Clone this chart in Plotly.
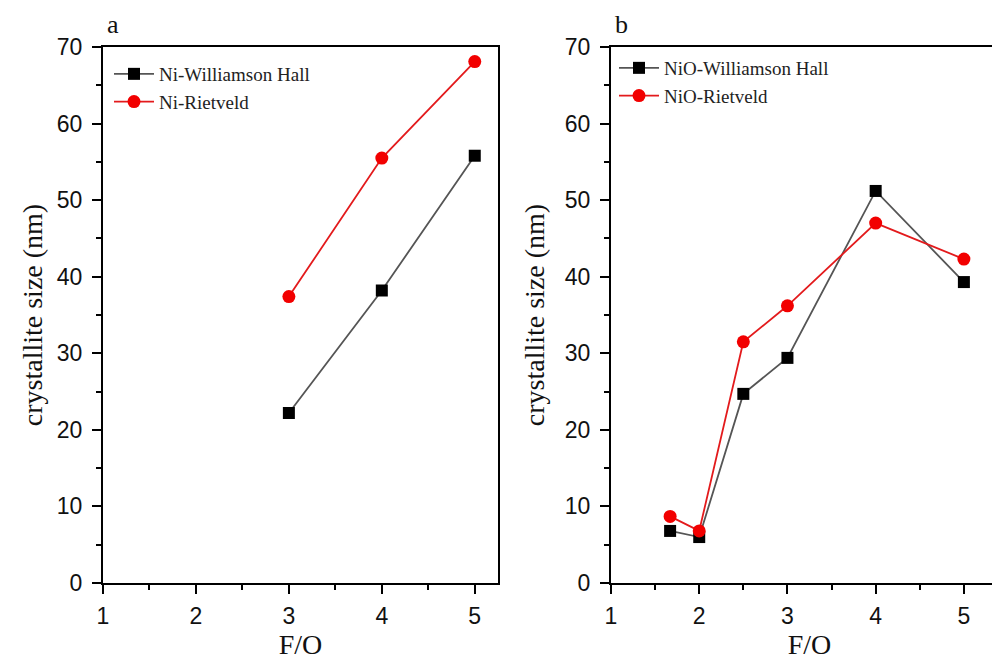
import plotly.graph_objects as go

# Panel a data
fo_a = [3, 4, 5]
ni_wh = [22.2, 38.2, 55.8]
ni_rv = [37.4, 55.5, 68.1]

# Panel b data
fo_b = [1.67, 2, 2.5, 3, 4, 5]
nio_wh = [6.8, 6.0, 24.7, 29.4, 51.2, 39.3]
nio_rv = [8.7, 6.8, 31.5, 36.2, 47.0, 42.3]

x_ticks = [1, 2, 3, 4, 5]
y_ticks = [0, 10, 20, 30, 40, 50, 60, 70]

W, H = 1000, 662
OX, OY = 8, 8  # page body offset


def sx(px):
    return (px - OX) / W


def sy(py):
    return 1 - (py - OY) / H


GRAY = "#555555"
RED_LINE = "#e31a1c"
RED = "#f20000"

fig = go.Figure()


def add_pair(x, y1, y2, n1, n2, xa, ya, leg):
    fig.add_trace(go.Scatter(x=x, y=y1, name=n1, mode="lines+markers",
                             line=dict(color=GRAY, width=1.8),
                             marker=dict(symbol="square", size=12, color="black"),
                             xaxis=xa, yaxis=ya, legend=leg))
    fig.add_trace(go.Scatter(x=x, y=y2, name=n2, mode="lines+markers",
                             line=dict(color=RED_LINE, width=1.8),
                             marker=dict(symbol="circle", size=13, color=RED),
                             xaxis=xa, yaxis=ya, legend=leg))


add_pair(fo_a, ni_wh, ni_rv, "Ni-Williamson Hall", "Ni-Rietveld", "x", "y", "legend")
add_pair(fo_b, nio_wh, nio_rv, "NiO-Williamson Hall", "NiO-Rietveld", "x2", "y2", "legend2")

tickfont = dict(family="Liberation Sans, Arial, sans-serif", size=23, color="#111")
serif = "Liberation Serif, Times New Roman, serif"


def xaxis(domain, rng, anchor):
    return dict(domain=domain, range=rng, tickvals=x_ticks, ticks="outside", ticklen=9,
                tickwidth=2, tickcolor="black", showline=True, linecolor="black",
                linewidth=2, mirror=True, showgrid=False, zeroline=False,
                tickfont=tickfont, ticklabelstandoff=2, anchor=anchor,
                minor=dict(ticks="outside", ticklen=5, tickwidth=2, tickcolor="black",
                           dtick=0.5, tick0=1, showgrid=False),
                title=dict(text="F/O", font=dict(family=serif, size=28, color="#111"),
                           standoff=4))


def yaxis(anchor, standoff, mirror):
    return dict(domain=[sy(583), sy(47)], range=[0, 70], tickvals=y_ticks,
                ticks="outside", ticklen=9, tickwidth=2, tickcolor="black",
                showline=True, linecolor="black", linewidth=2, showgrid=False,
                zeroline=False, tickfont=tickfont, anchor=anchor, mirror=mirror,
                ticklabelstandoff=5,
                minor=dict(ticks="outside", ticklen=5, tickwidth=2, tickcolor="black",
                           dtick=5, tick0=0, showgrid=False),
                title=dict(text="crystallite size (nm)",
                           font=dict(family=serif, size=28, color="#111"),
                           standoff=standoff))


xa = xaxis([sx(103), sx(498)], [1, 5.25], "y")
xb = xaxis([sx(611), 1.0], [1, 5.5], "y2")
ya = yaxis("x", 6, True)
yb = yaxis("x2", 12, False)

legfont = dict(family=serif, size=19, color="#222")

fig.update_layout(
    width=W, height=H,
    margin=dict(l=0, r=0, t=0, b=0, autoexpand=False),
    paper_bgcolor="white", plot_bgcolor="white",
    xaxis=xa, yaxis=ya, xaxis2=xb, yaxis2=yb,
    showlegend=True,
    legend=dict(x=sx(109), y=sy(55), xanchor="left", yanchor="top", font=legfont,
                bgcolor="rgba(0,0,0,0)", borderwidth=0, itemwidth=40, tracegroupgap=0),
    legend2=dict(x=sx(614), y=sy(49), xanchor="left", yanchor="top", font=legfont,
                 bgcolor="rgba(0,0,0,0)", borderwidth=0, itemwidth=40, tracegroupgap=0),
    annotations=[
        dict(text="a", x=sx(113), y=sy(24), xref="paper", yref="paper", showarrow=False,
             xanchor="center", yanchor="middle",
             font=dict(family=serif, size=26, color="#111")),
        dict(text="b", x=sx(621), y=sy(24), xref="paper", yref="paper", showarrow=False,
             xanchor="center", yanchor="middle",
             font=dict(family=serif, size=26, color="#111")),
    ],
)

fig.write_html("out.html")
